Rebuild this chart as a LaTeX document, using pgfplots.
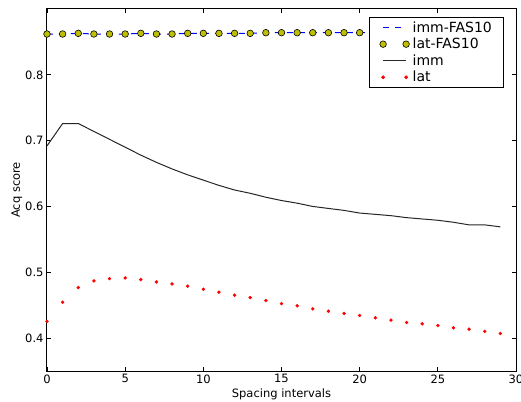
\documentclass[border=0pt]{standalone}
\usepackage{fontspec}
\setmainfont{DejaVu Sans}
\usepackage{pgfplots}
\usepackage{pgfplotstable}
\pgfplotsset{compat=1.18}
\definecolor{mplyellow}{rgb}{0.75,0.75,0}
\definecolor{mplblue}{rgb}{0,0,1}

\pgfplotsset{
  seg legend/.style={legend image code/.code={\path (0bp,0bp) (30bp,0bp); \draw[##1] (4bp,0bp) -- (27bp,0bp);}},
  pair legend/.style={legend image code/.code={\path (0bp,0bp) (30bp,0bp); \draw[##1, mark repeat=1] plot coordinates {(4bp,0bp) (27bp,0bp)};}},
}

% acquisition scores per spacing interval
\pgfplotstableread{
x  immfas latfas imm   lat
0  0.862  0.862  0.692 0.4253
1  0.862  0.862  0.726 0.4545
2  0.863  0.863  0.726 0.4768
3  0.862  0.862  0.714 0.4869
4  0.862  0.862  0.702 0.4904
5  0.862  0.862  0.690 0.4914
6  0.863  0.863  0.678 0.4889
7  0.862  0.862  0.667 0.4853
8  0.862  0.862  0.657 0.4823
9  0.863  0.863  0.648 0.4788
10 0.863  0.863  0.640 0.4742
11 0.863  0.863  0.632 0.4697
12 0.863  0.863  0.625 0.4652
13 0.863  0.863  0.620 0.4616
14 0.864  0.864  0.614 0.4571
15 0.864  0.864  0.609 0.4525
16 0.864  0.864  0.605 0.4490
17 0.864  0.864  0.600 0.4444
18 0.864  0.864  0.597 0.4409
19 0.864  0.864  0.594 0.4374
20 0.864  0.864  0.590 0.4344
21 0.864  0.864  0.588 0.4308
22 0.864  0.864  0.586 0.4273
23 0.865  0.865  0.583 0.4237
24 0.865  0.865  0.581 0.4217
25 0.865  0.865  0.579 0.4192
26 0.865  0.865  0.576 0.4157
27 0.865  0.865  0.572 0.4136
28 0.865  0.865  0.572 0.4101
29 0.865  0.865  0.569 0.4071
}\scores

\begin{document}
\begin{tikzpicture}
\begin{axis}[
  scale only axis,
  width=469bp, height=362bp,
  xmin=0, xmax=30, ymin=0.35, ymax=0.9,
  xtick={0,5,...,30},
  ytick={0.4,0.5,0.6,0.7,0.8},
  tick align=inside,
  major tick length=4bp,
  tick style={black, line width=0.8bp},
  axis line style={line width=1bp},
  /pgf/number format/assume math mode=true,
  yticklabel style={/pgf/number format/fixed, /pgf/number format/precision=1, /pgf/number format/fixed zerofill},
  ticklabel style={font=\fontsize{11.5bp}{13bp}\selectfont},
  label style={font=\fontsize{11.5bp}{13bp}\selectfont},
  xlabel={Spacing intervals},
  ylabel={Acq score},
  xlabel style={at={(axis description cs:0.5,0)}, anchor=base, yshift=-26bp},
  ylabel style={at={(axis description cs:0,0.5)}, anchor=base, yshift=27bp},
  legend cell align=left,
  legend style={at={(axis description cs:0.975,0.978)}, anchor=north east,
    draw=black, line width=0.8bp, inner xsep=9bp,
    font=\fontsize{14bp}{16bp}\selectfont,
    nodes={inner ysep=2.2bp, inner xsep=3bp}},
]
\addplot[draw=mplblue, color=mplblue, line width=1bp, dash pattern=on 6bp off 6bp, seg legend]
  table[x=x, y=immfas] {\scores};
\addlegendentry{imm-FAS10}
\addplot[only marks, mark=*, mark size=3.3bp,
  mark options={fill=mplyellow, draw=black, line width=0.6bp}, pair legend]
  table[x=x, y=latfas] {\scores};
\addlegendentry{lat-FAS10}
\addplot[black!85, line width=1bp, seg legend]
  table[x=x, y=imm] {\scores};
\addlegendentry{imm}
\addplot[only marks, mark=*, mark size=1.5bp, red,
  mark options={fill=red, draw=red}, pair legend]
  table[x=x, y=lat] {\scores};
\addlegendentry{lat}
\coordinate (bl) at (rel axis cs:0,0);
\coordinate (tr) at (rel axis cs:1,1);
\end{axis}
\pgfresetboundingbox
\path[use as bounding box] ([shift={(-47bp,-31bp)}]bl) rectangle ([shift={(5bp,9bp)}]tr);
\end{tikzpicture}
\end{document}
